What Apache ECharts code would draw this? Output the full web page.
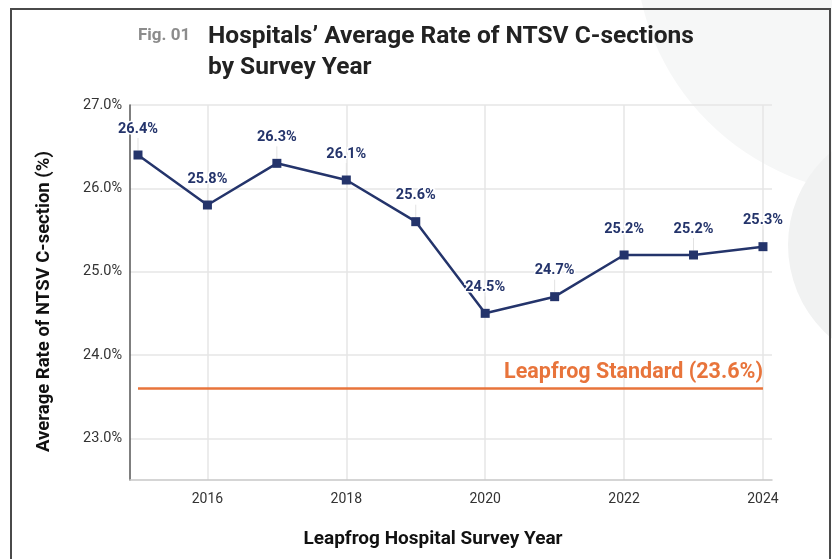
<!DOCTYPE html>
<html><head><meta charset="utf-8">
<script src="https://cdn.jsdelivr.net/npm/echarts@6/dist/echarts.min.js"></script>
<style>html,body{margin:0;padding:0;background:#fff}#c{width:832px;height:559px}</style>
</head><body><div id="c"></div>
<script>
const years = [2015, 2016, 2017, 2018, 2019, 2020, 2021, 2022, 2023, 2024];
const rates = [26.4, 25.8, 26.3, 26.1, 25.6, 24.5, 24.7, 25.2, 25.2, 25.3];
const standardValue = 23.6;
const standardLabel = 'Leapfrog Standard (23.6%)';
const yTicks = [23, 24, 25, 26, 27];
const xTicks = [2016, 2018, 2020, 2022, 2024];
const figLabel = 'Fig. 01';
const titleText = 'Hospitals’ Average Rate of NTSV C-sections\nby Survey Year';
const xName = 'Leapfrog Hospital Survey Year';
const yName = 'Average Rate of NTSV C-section (%)';

const NAVY = '#24346b';
const ORANGE = '#e8743b';
const FONT = 'Roboto, sans-serif';

const chart = echarts.init(document.getElementById('c'), null, {renderer: 'canvas'});
chart.setOption({
  animation: false,
  backgroundColor: '#ffffff',
  graphic: [
    {type: 'circle', z: -10, shape: {cx: 885, cy: -55, r: 250}, style: {fill: '#f6f7f7'}, silent: true},
    {type: 'circle', z: -9, shape: {cx: 910, cy: 245, r: 122}, style: {fill: '#f1f2f2'}, silent: true},
    {type: 'rect', z: 100, shape: {x: 11, y: 9, width: 819, height: 560}, style: {fill: 'none', stroke: '#4a4a4a', lineWidth: 2}, silent: true}
  ],
  title: [
    {text: figLabel, left: 133, top: 22, textStyle: {fontFamily: FONT, fontSize: 17, fontWeight: 'bold', color: '#8c8c8c'}},
    {text: titleText, left: 203, top: 16, textStyle: {fontFamily: FONT, fontSize: 24.5, fontWeight: 'bold', color: '#222', lineHeight: 31}}
  ],
  grid: {left: 130, right: 60, top: 105, bottom: 79, containLabel: false},
  xAxis: {
    type: 'value', min: 2014.885, max: 2024.13,
    name: xName, nameLocation: 'middle', nameGap: 50,
    nameTextStyle: {fontFamily: FONT, fontSize: 19, fontWeight: 'bold', color: '#111', padding: [0, 36, 0, 0]},
    axisLine: {show: true, lineStyle: {color: '#c8c8c8', width: 1.5}},
    axisTick: {show: false, customValues: xTicks},
    axisLabel: {customValues: xTicks, fontFamily: FONT, fontSize: 14, color: '#333', margin: 12, formatter: v => String(v)},
    splitLine: {show: true, lineStyle: {color: '#e6e6e6', width: 1.5}}
  },
  yAxis: {
    type: 'value', min: 22.5, max: 27,
    name: yName, nameLocation: 'middle', nameGap: 76,
    nameTextStyle: {fontFamily: FONT, fontSize: 18.5, fontWeight: 'bold', color: '#111', padding: [0, 18, 0, 0]},
    axisLine: {show: true, lineStyle: {color: '#555', width: 1.5}},
    axisTick: {show: false, customValues: yTicks},
    axisLabel: {customValues: yTicks, fontFamily: FONT, fontSize: 14.5, color: '#333', margin: 8, formatter: v => v.toFixed(1) + '%'},
    splitLine: {show: true, lineStyle: {color: '#e6e6e6', width: 1.5}}
  },
  series: [{
    type: 'line',
    data: years.map((y, i) => [y, rates[i]]),
    symbol: 'rect', symbolSize: 9,
    lineStyle: {color: NAVY, width: 2.5},
    itemStyle: {color: NAVY},
    label: {
      show: true, position: 'top', distance: 6,
      formatter: p => p.value[1].toFixed(1) + '%',
      fontFamily: FONT, fontSize: 14.5, fontWeight: 'bold', color: NAVY,
      textBorderColor: '#fff', textBorderWidth: 3
    },
    labelLayout: {dy: -8},
    labelLine: {show: true, lineStyle: {color: '#e2e2e2', width: 1}},
    markLine: {
      silent: true, symbol: 'none',
      lineStyle: {color: ORANGE, width: 2.5, type: 'solid'},
      label: {show: true, position: 'insideEndTop', formatter: standardLabel, fontFamily: FONT, fontSize: 21.5, fontWeight: 'bold', color: ORANGE, distance: [0, 5]},
      data: [[{coord: [years[0], standardValue]}, {coord: [years[years.length - 1], standardValue]}]]
    }
  }]
});
</script></body></html>
